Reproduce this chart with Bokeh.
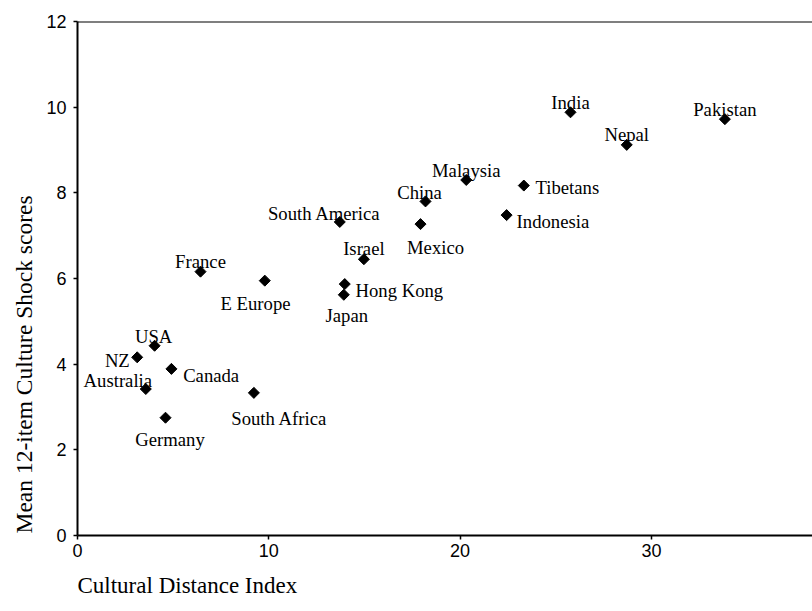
import math
from bokeh.plotting import figure
from bokeh.models import ColumnDataSource, FixedTicker, Span, Range1d, Title
from bokeh.core.properties import value
from bokeh.embed import file_html
from bokeh.resources import INLINE

# ---- data ----
countries = ["India", "Pakistan", "Nepal", "Malaysia", "China", "Tibetans",
             "Indonesia", "Mexico", "South America", "Israel", "France",
             "E Europe", "Hong Kong", "Japan", "USA", "NZ", "Canada",
             "Australia", "South Africa", "Germany"]
cultural_distance = [25.77, 33.84, 28.71, 20.32, 18.19, 23.33,
                     22.43, 17.93, 13.71, 14.97, 6.43,
                     9.79, 13.97, 13.92, 4.03, 3.12, 4.91,
                     3.57, 9.22, 4.60]
culture_shock = [9.88, 9.72, 9.12, 8.30, 7.80, 8.17,
                 7.48, 7.27, 7.32, 6.45, 6.16,
                 5.95, 5.87, 5.62, 4.43, 4.16, 3.89,
                 3.42, 3.33, 2.75]
x_ticks = [0, 10, 20, 30]
y_ticks = [0, 2, 4, 6, 8, 10, 12]
x_title = "Cultural Distance Index"
y_title = "Mean 12-item Culture Shock scores"

# ---- label placement (screen pixels, style only) ----
label_place = {
    "India": (0, -10, "center"),
    "Pakistan": (0, -10, "center"),
    "Nepal": (0, -10, "center"),
    "Malaysia": (0, -9.5, "center"),
    "China": (-6, -9, "center"),
    "Tibetans": (11.7, 1.7, "left"),
    "Indonesia": (10, 6.4, "left"),
    "Mexico": (15, 23.4, "center"),
    "South America": (-15.5, -8, "center"),
    "Israel": (0, -10.3, "center"),
    "France": (0, -10, "center"),
    "E Europe": (-9.3, 23.3, "center"),
    "Hong Kong": (10.7, 6.7, "left"),
    "Japan": (3, 20.3, "center"),
    "USA": (-1, -9.3, "center"),
    "NZ": (-7.4, 3.3, "right"),
    "Canada": (11.7, 6.7, "left"),
    "Australia": (6.3, -8.3, "right"),
    "South Africa": (25.4, 26, "center"),
    "Germany": (4.5, 22, "center"),
}

src = ColumnDataSource(dict(
    x=cultural_distance,
    y=culture_shock,
    name=countries,
    dx=[label_place[c][0] for c in countries],
    dy=[label_place[c][1] for c in countries],
    align=[label_place[c][2] for c in countries],
))

p = figure(width=812, height=611, output_backend="svg", toolbar_location=None,
           x_range=Range1d(0, 38.42), y_range=Range1d(0, 12),
           min_border_left=77, min_border_right=0, min_border_top=21,
           min_border_bottom=76)
p.outline_line_color = None
p.background_fill_color = "white"
p.border_fill_color = "white"
p.xgrid.visible = False
p.ygrid.visible = False

for ax in (p.xaxis[0], p.yaxis[0]):
    ax.axis_line_color = "black"
    ax.axis_line_width = 2
    ax.major_tick_line_color = "black"
    ax.major_tick_line_width = 1.5
    ax.major_tick_out = 4
    ax.major_tick_in = 0
    ax.minor_tick_line_color = None
    ax.major_label_text_font = "Liberation Sans"
    ax.major_label_text_font_size = "18px"
    ax.major_label_text_color = "black"

p.xaxis.ticker = FixedTicker(ticks=x_ticks)
p.yaxis.ticker = FixedTicker(ticks=y_ticks)
p.xaxis.major_label_standoff = 4
p.yaxis.major_label_standoff = 7

p.add_layout(Title(text=y_title, align="left", offset=2, text_font="Liberation Serif",
                   text_font_size="23.5px", text_font_style="normal",
                   text_color="black", standoff=14), "left")

p.add_layout(Title(text=x_title, align="left", text_font="Liberation Serif",
                   text_font_size="23px", text_font_style="normal",
                   text_color="black", standoff=23), "below")

p.add_layout(Span(location=12, dimension="width", line_color="black", line_width=2))

p.scatter(x="x", y="y", source=src, marker="square", angle=math.pi / 4,
          size=7.8, fill_color="black", line_color="black")

p.text(x="x", y="y", text="name", source=src, x_offset="dx", y_offset="dy",
       text_align="align", text_baseline="alphabetic",
       text_font=value("Liberation Serif"), text_font_size="18.7px",
       text_color="black")

open("out.html", "w").write(file_html(p, INLINE))
